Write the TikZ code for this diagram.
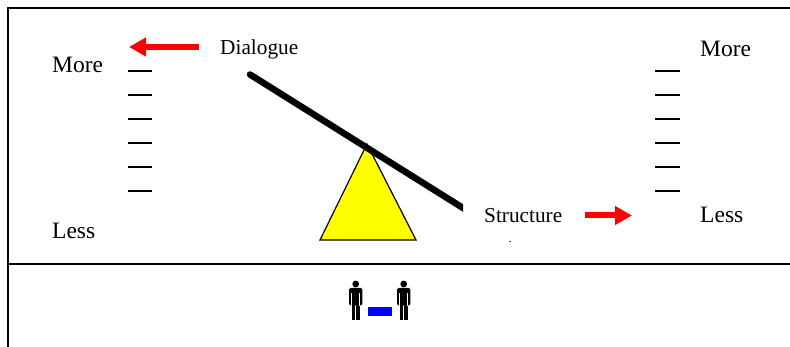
\documentclass[tikz,border=0pt]{standalone}
\usepackage{fontspec}
\usepackage{xcolor}
\usetikzlibrary{arrows.meta,positioning,calc}
\setmainfont{Liberation Serif}
\definecolor{Ink}{HTML}{000000}
\definecolor{Fulcrum}{HTML}{FFFF00}
\definecolor{Pull}{HTML}{FF0000}
\definecolor{Link}{HTML}{0000FF}
\tikzset{
  frameline/.style={draw=Ink,line width=1.3pt},
  scalelabel/.style={anchor=base west,inner sep=0pt,font=\fontsize{23.5}{26}\selectfont,text=Ink},
  pulllabel/.style={anchor=base west,inner sep=0pt,font=\fontsize{21.3}{24}\selectfont,text=Ink},
  tick/.style={draw=Ink,line width=1.4pt},
  beam/.style={draw=Ink,line width=6.5pt,line cap=round},
  pullarr/.style={-{Triangle[length=17pt,width=18pt]},draw=Pull,line width=6pt},
  fulcrum/.style={draw=Ink,fill=Fulcrum,line width=1.2pt,line join=miter},
  person/.pic={
    \fill[Ink] (0,284) circle (3.4);
    \fill[Ink,rounded corners=1.5pt] (-6.6,288) rectangle (6.6,305.5);
    \fill[Ink] (-3.8,300) rectangle (-0.5,320);
    \fill[Ink] (0.5,300) rectangle (3.8,320);
    \fill[white] (-4.4,293) rectangle (-3.6,306);
    \fill[white] (3.6,293) rectangle (4.4,306);
    \fill[white] (-0.35,306) rectangle (0.35,320);
  }
}

\begin{document}
\begin{tikzpicture}[x=1pt,y=-1pt]
  \useasboundingbox (0,0) rectangle (790,347);
  % frame
  \coordinate (topleft) at (8,8);
  \coordinate (topright) at (790,8);
  \coordinate (bottomleft) at (8,347);
  \coordinate (midleft) at (8,264);
  \coordinate (midright) at (790,264);
  \draw[frameline] (bottomleft) -- (topleft) -- (topright);
  \draw[frameline] (midleft) -- (midright);
  % scales
  \foreach \y in {71,95,119,143,167,191} {
    \draw[tick] (128,\y) -- (152,\y);
    \draw[tick] (655,\y) -- (680,\y);
  }
  \node[scalelabel] (moreleft) at (52,73) {More};
  \node[scalelabel] (lessleft) at (52,239) {Less};
  \node[scalelabel] (moreright) at (700,57) {More};
  \node[scalelabel] (lessright) at (700,223) {Less};
  % seesaw
  \coordinate (apex) at (367,144);
  \coordinate (baseleft) at (320,240);
  \coordinate (baseright) at (416,240);
  \draw[fulcrum] (apex) -- (baseright) -- (baseleft) -- cycle;
  \coordinate (beamtop) at (250,74.5);
  \coordinate (beamend) at (475,215.5);
  \begin{scope}
    \clip (240,60) rectangle (463,220);
    \draw[beam] (beamtop) -- (beamend);
  \end{scope}
  % pulls
  \node[pulllabel] (dialogue) at (220,55) {Dialogue};
  \node[pulllabel] (structure) at (484,223) {Structure};
  \coordinate (dialoguetail) at (199,47);
  \coordinate (dialoguetip) at (129,47);
  \coordinate (structuretail) at (585,215.5);
  \coordinate (structuretip) at (632,215.5);
  \draw[pullarr] (dialoguetail) -- (dialoguetip);
  \draw[pullarr] (structuretail) -- (structuretip);
  \coordinate (specka) at (508.5,241);
  \coordinate (speckb) at (511,241);
  \draw[draw=Ink!70,line width=0.8pt] (specka) -- (speckb);
  % people
  \path (355.7,0) pic {person};
  \path (403.7,0) pic {person};
  \fill[Link] (367.7,307.3) rectangle (391.7,315.7);
\end{tikzpicture}
\end{document}
